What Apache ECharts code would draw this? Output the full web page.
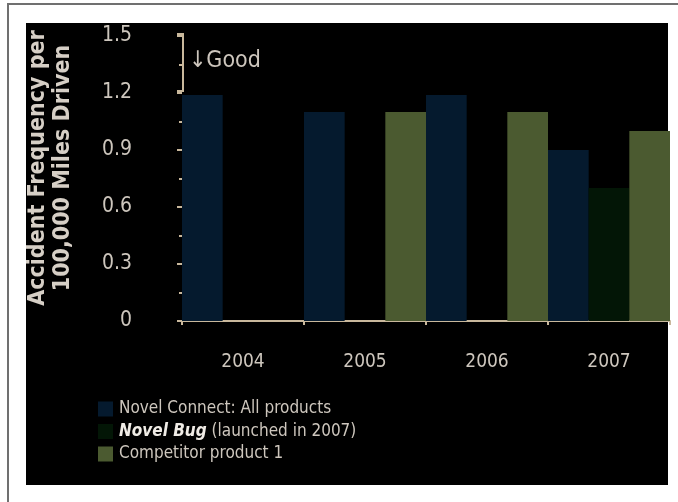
<!DOCTYPE html>
<html>
<head>
<meta charset="utf-8">
<script src="https://cdn.jsdelivr.net/npm/echarts@6/dist/echarts.min.js"></script>
<style>
  html, body { margin: 0; padding: 0; background: #fff; }
  #wrap { position: relative; width: 678px; height: 502px; overflow: hidden; }
  #frameTop { position: absolute; left: 7px; top: 3px; width: 671px; height: 2px; background: #707070; }
  #frameLeft { position: absolute; left: 7px; top: 3px; width: 2px; height: 499px; background: #707070; }
  #panel { position: absolute; left: 26px; top: 23px; width: 642px; height: 462px; background: #000; }
  #chart { position: absolute; left: 0; top: 0; width: 678px; height: 502px; }
</style>
</head>
<body>
<div id="wrap">
  <div id="frameTop"></div>
  <div id="frameLeft"></div>
  <div id="panel"></div>
  <div id="chart"></div>
</div>
<script>
// data
const years = ['2004', '2005', '2006', '2007']
const novelConnect = [1.19, 1.1, 1.19, 0.9]
const novelBug = [null, null, null, 0.7]
const competitor = [null, 1.1, 1.1, 1.0]
const seriesNames = ['Novel Connect: All products', 'Novel Bug', 'Competitor product 1']

const font = "'Liberation Sans Narrow', 'DejaVu Sans Condensed', sans-serif"
const textColor = '#cdc6bd'
const axisColor = '#c9b89c'

const chart = echarts.init(document.getElementById('chart'))

const option = {
  backgroundColor: 'transparent',
  animation: false,
  color: ['#051a2e', '#031606', '#4b5a30'],
  textStyle: { fontFamily: font },
  grid: {
    left: 182,
    right: 8,
    top: 36,
    bottom: 181
  },
  legend: {
    orient: 'vertical',
    left: 98,
    top: 399,
    padding: 0,
    itemWidth: 15,
    itemHeight: 15,
    itemGap: 2.5,
    icon: 'rect',
    data: seriesNames,
    formatter: function (name) {
      if (name === 'Novel Bug') {
        return '{b|Novel Bug} (launched in 2007)'
      }
      return name
    },
    textStyle: {
      color: textColor,
      fontSize: 17,
      lineHeight: 20,
      fontFamily: font,
      padding: [0, 0, 0, 1],
      rich: {
        b: {
          fontSize: 17,
          lineHeight: 20,
          fontFamily: font,
          fontWeight: 'bold',
          fontStyle: 'italic',
          color: '#f0ece6'
        }
      }
    }
  },
  xAxis: {
    type: 'category',
    data: years,
    boundaryGap: true,
    axisLine: {
      lineStyle: { color: axisColor, width: 2 }
    },
    axisTick: {
      show: true,
      length: 4,
      lineStyle: { color: axisColor, width: 2 }
    },
    axisLabel: {
      color: textColor,
      fontSize: 19,
      fontFamily: font,
      margin: 32
    }
  },
  yAxis: {
    type: 'value',
    min: 0,
    max: 1.5,
    interval: 0.3,
    axisLine: { show: false },
    axisTick: {
      show: true,
      length: 5,
      lineStyle: { color: axisColor, width: 2 }
    },
    minorTick: {
      show: true,
      splitNumber: 2,
      length: 3,
      lineStyle: { color: axisColor, width: 2 }
    },
    splitLine: { show: false },
    axisLabel: {
      color: textColor,
      fontSize: 21,
      fontFamily: font,
      margin: 50,
      formatter: function (v) {
        return v === 0 ? '0' : v.toFixed(1)
      }
    }
  },
  series: [
    {
      name: seriesNames[0],
      type: 'bar',
      data: novelConnect,
      barGap: '0%',
      barCategoryGap: '0%'
    },
    {
      name: seriesNames[1],
      type: 'bar',
      data: novelBug
    },
    {
      name: seriesNames[2],
      type: 'bar',
      data: competitor
    }
  ]
}

chart.setOption(option)

// bracket, "Good" note and axis title, placed from the y scale
const yTop = chart.convertToPixel({ yAxisIndex: 0 }, 1.5)
const yMid = chart.convertToPixel({ yAxisIndex: 0 }, 1.2)
const xAxisStart = chart.convertToPixel({ xAxisIndex: 0 }, 0) - 61
chart.setOption({
  graphic: [
    {
      type: 'polyline',
      shape: {
        points: [
          [xAxisStart - 5, yTop - 2],
          [xAxisStart + 1, yTop - 2],
          [xAxisStart + 1, yMid - 2],
          [xAxisStart - 5, yMid - 2]
        ]
      },
      style: { stroke: axisColor, lineWidth: 2, fill: null }
    },
    {
      type: 'text',
      left: xAxisStart + 7,
      top: (yTop + yMid) / 2 - 15,
      style: {
        text: '↓Good',
        fill: textColor,
        font: '23px ' + font
      }
    },
    {
      type: 'text',
      x: 51,
      y: 168,
      rotation: Math.PI / 2,
      style: {
        text: 'Accident Frequency per\n100,000 Miles Driven',
        fill: '#d6cfc6',
        font: 'bold 23px ' + font,
        align: 'center',
        verticalAlign: 'middle',
        lineHeight: 25
      }
    }
  ]
})
</script>
</body>
</html>
